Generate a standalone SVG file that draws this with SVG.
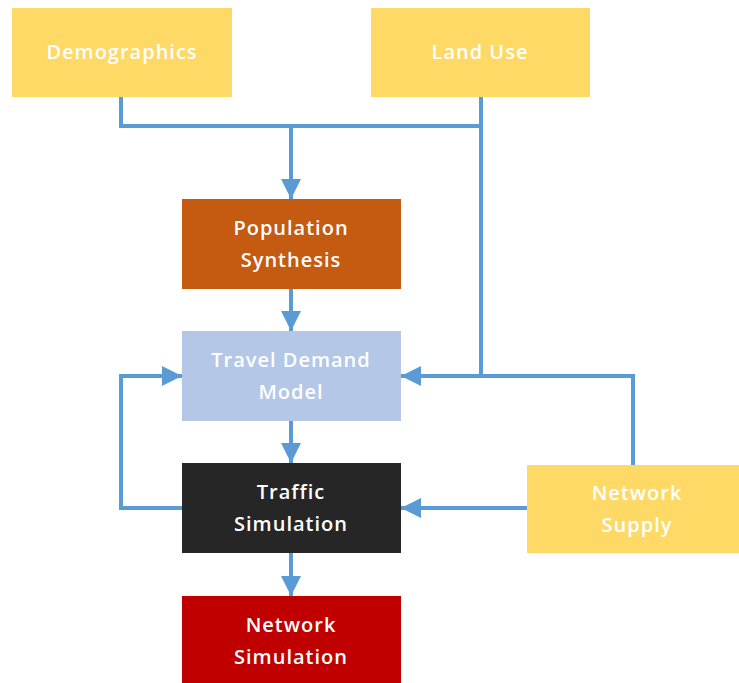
<svg xmlns="http://www.w3.org/2000/svg" width="739" height="683" viewBox="0 0 739 683">
<defs>
<marker id="ah" markerUnits="userSpaceOnUse" markerWidth="22" markerHeight="22" refX="20" refY="10" orient="auto">
<path d="M0,0 L20,10 L0,20 Z" fill="#5B9BD5"/>
</marker>
<style>
.lbl{font-family:"Open Sans","Liberation Sans",sans-serif;font-weight:600;font-size:20px;letter-spacing:1px;fill:#fff;text-anchor:middle}
.c{fill:none;stroke:#5B9BD5;stroke-width:4}
</style>
</defs>
<rect width="739" height="683" fill="#fff"/>
<g id="connectors">
<polyline class="c" points="121,97 121,126 481,126"/>
<line class="c" x1="291" y1="126" x2="291" y2="199" marker-end="url(#ah)"/>
<polyline class="c" points="481,97 481,376"/>
<line class="c" x1="291" y1="289" x2="291" y2="331" marker-end="url(#ah)"/>
<line class="c" x1="291" y1="421" x2="291" y2="463" marker-end="url(#ah)"/>
<line class="c" x1="291" y1="553" x2="291" y2="596" marker-end="url(#ah)"/>
<polyline class="c" points="182,508 121,508 121,376 182,376" marker-end="url(#ah)"/>
<polyline class="c" points="633,465 633,376 401,376" marker-end="url(#ah)"/>
<line class="c" x1="527" y1="508" x2="401" y2="508" marker-end="url(#ah)"/>
</g>
<g id="demographics"><rect x="12" y="8" width="220" height="89" fill="#FFD966"/><text class="lbl" x="122" y="59">Demographics</text></g>
<g id="landuse"><rect x="371" y="8" width="219" height="89" fill="#FFD966"/><text class="lbl" x="480" y="59">Land Use</text></g>
<g id="popsyn"><rect x="182" y="199" width="219" height="90" fill="#C55A11"/><text class="lbl" x="291" y="235">Population</text><text class="lbl" x="291" y="267">Synthesis</text></g>
<g id="tdm"><rect x="182" y="331" width="219" height="90" fill="#B4C7E7"/><text class="lbl" x="291" y="367">Travel Demand</text><text class="lbl" x="291" y="399">Model</text></g>
<g id="traffic"><rect x="182" y="463" width="219" height="90" fill="#262626"/><text class="lbl" x="291" y="499">Traffic</text><text class="lbl" x="291" y="531">Simulation</text></g>
<g id="netsim"><rect x="182" y="596" width="219" height="90" fill="#C00000"/><text class="lbl" x="291" y="632">Network</text><text class="lbl" x="291" y="664">Simulation</text></g>
<g id="netsupply"><rect x="527" y="465" width="215" height="88" fill="#FFD966"/><text class="lbl" x="637" y="500">Network</text><text class="lbl" x="637" y="532">Supply</text></g>
</svg>
